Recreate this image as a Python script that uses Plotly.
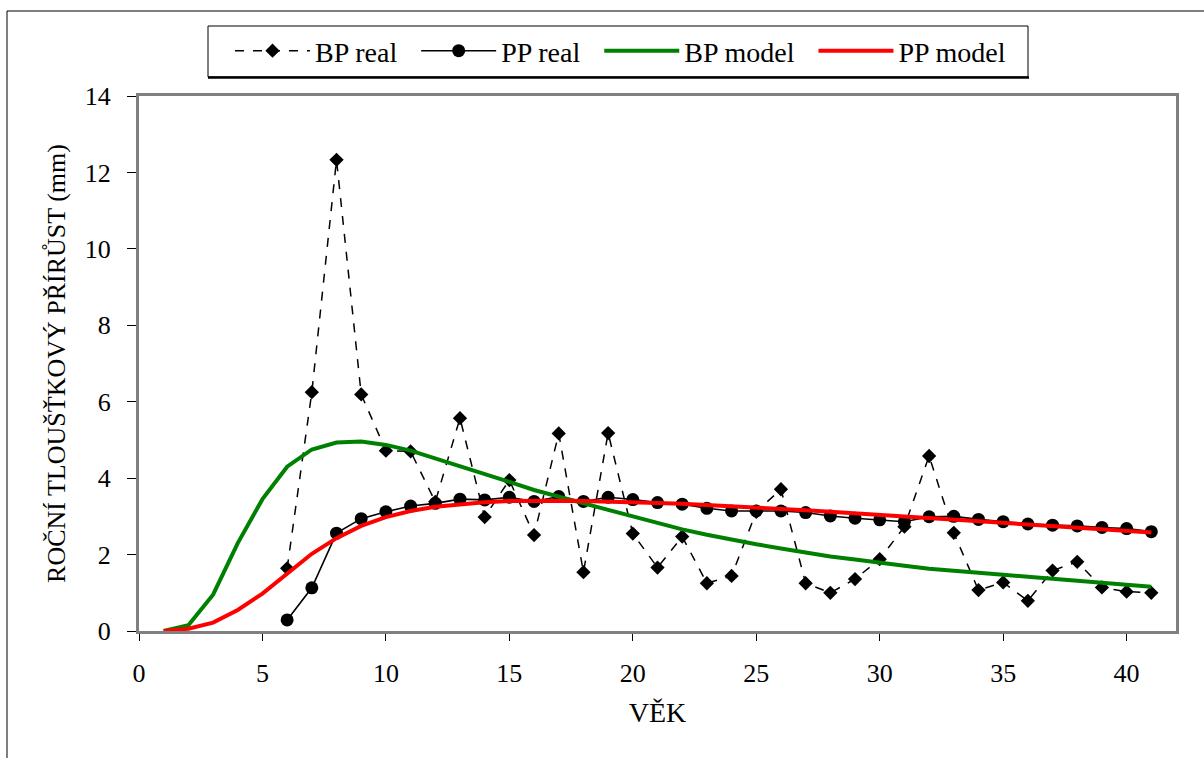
import plotly.graph_objects as go

# ---- data ----
age_model = list(range(1, 42))
bp_model = [0.0, 0.15, 0.95, 2.3, 3.45, 4.3, 4.75, 4.93, 4.96, 4.87,
            4.72, 4.52, 4.30, 4.10, 3.90, 3.69, 3.51, 3.33, 3.17, 3.00,
            2.82, 2.66, 2.52, 2.39, 2.27, 2.16, 2.05, 1.95, 1.87, 1.80,
            1.71, 1.63, 1.57, 1.52, 1.47, 1.42, 1.37, 1.31, 1.26, 1.21, 1.16]
pp_model = [0.0, 0.06, 0.22, 0.55, 0.98, 1.5, 2.02, 2.43, 2.75, 2.98,
            3.14, 3.25, 3.32, 3.37, 3.40, 3.41, 3.41, 3.40, 3.39, 3.38,
            3.35, 3.33, 3.30, 3.27, 3.24, 3.20, 3.16, 3.12, 3.08, 3.04,
            3.00, 2.96, 2.92, 2.88, 2.84, 2.80, 2.76, 2.72, 2.67, 2.63, 2.58]

age_real = list(range(6, 42))
bp_real = [1.64, 6.25, 12.33, 6.19, 4.72, 4.70, 3.38, 5.57, 2.98, 3.95,
           2.51, 5.17, 1.54, 5.18, 2.55, 1.66, 2.47, 1.25, 1.44, 3.12,
           3.71, 1.25, 1.00, 1.36, 1.88, 2.73, 4.58, 2.57, 1.07, 1.27,
           0.79, 1.58, 1.81, 1.14, 1.03, 1.00]
pp_real = [0.29, 1.13, 2.56, 2.94, 3.12, 3.27, 3.34, 3.45, 3.43, 3.50,
           3.39, 3.52, 3.39, 3.50, 3.44, 3.36, 3.32, 3.21, 3.14, 3.14,
           3.14, 3.10, 3.01, 2.95, 2.91, 2.86, 2.99, 3.00, 2.92, 2.86,
           2.80, 2.77, 2.75, 2.71, 2.68, 2.60]

series_names = ["BP real", "PP real", "BP model", "PP model"]
x_ticks = [0, 5, 10, 15, 20, 25, 30, 35, 40]
y_ticks = [0, 2, 4, 6, 8, 10, 12, 14]

FONT = "Liberation Serif"
PAD = "\u00a0\u00a0"

fig = go.Figure()
fig.add_trace(go.Scatter(x=age_real, y=bp_real, name=series_names[0] + PAD, mode="lines+markers",
                         line=dict(color="black", width=1.5, dash="dash"),
                         marker=dict(symbol="diamond", size=11, color="black")))
fig.add_trace(go.Scatter(x=age_real, y=pp_real, name=series_names[1] + PAD, mode="lines+markers",
                         line=dict(color="black", width=1.6),
                         marker=dict(symbol="circle", size=13, color="black")))
fig.add_trace(go.Scatter(x=age_model, y=bp_model, name=series_names[2] + PAD, mode="lines",
                         line=dict(color="#008000", width=4)))
fig.add_trace(go.Scatter(x=age_model, y=pp_model, name=series_names[3], mode="lines",
                         line=dict(color="#ff0000", width=4)))

L, R, T, B = 139, 28, 96, 127
W, H = 1204, 758
pw, ph = W - L - R, H - T - B

def px(x):
    return (x - L) / pw

def py(y):
    return (H - B - y) / ph

fig.update_layout(
    width=W, height=H,
    margin=dict(l=L, r=R, t=T, b=B),
    paper_bgcolor="white", plot_bgcolor="white",
    font=dict(family=FONT, size=26, color="black"),
    showlegend=True,
    legend=dict(orientation="h", x=px(230), y=py(26), xanchor="left", yanchor="top",
                borderwidth=0, bgcolor="rgba(0,0,0,0)",
                font=dict(family=FONT, size=28, color="black"),
                itemwidth=75, tracegroupgap=0),
    xaxis=dict(range=[0, 42], tickvals=x_ticks, showgrid=False, zeroline=False,
               showline=True, linecolor="#808080", linewidth=3, mirror=True,
               ticks="outside", ticklen=7, tickcolor="black", tickwidth=1,
               ticklabelstandoff=10, tickfont=dict(family=FONT, size=26),
               title=dict(text="VĚK", font=dict(family=FONT, size=28), standoff=16)),
    yaxis=dict(range=[0, 14], tickvals=y_ticks, showgrid=False, zeroline=False,
               showline=True, linecolor="#808080", linewidth=3, mirror=True,
               ticks="outside", ticklen=9, tickcolor="black", tickwidth=1,
               ticklabelstandoff=11, tickfont=dict(family=FONT, size=26),
               title=dict(text="ROČNÍ TLOUŠŤKOVÝ PŘÍRŮST (mm)", font=dict(family=FONT, size=26),
                          standoff=12)),
    shapes=[
        dict(type="rect", xref="paper", yref="paper", x0=px(7), x1=px(1215), y0=py(775), y1=py(11),
             line=dict(color="black", width=1), layer="below"),
        dict(type="rect", xref="paper", yref="paper", x0=px(208), x1=px(1028), y0=py(77), y1=py(26),
             line=dict(color="black", width=1), layer="above"),
        dict(type="line", xref="paper", yref="paper", x0=px(208), x1=px(1029), y0=py(77.5), y1=py(77.5),
             line=dict(color="black", width=2.5), layer="above"),
    ],
)

fig.write_html("out.html")
